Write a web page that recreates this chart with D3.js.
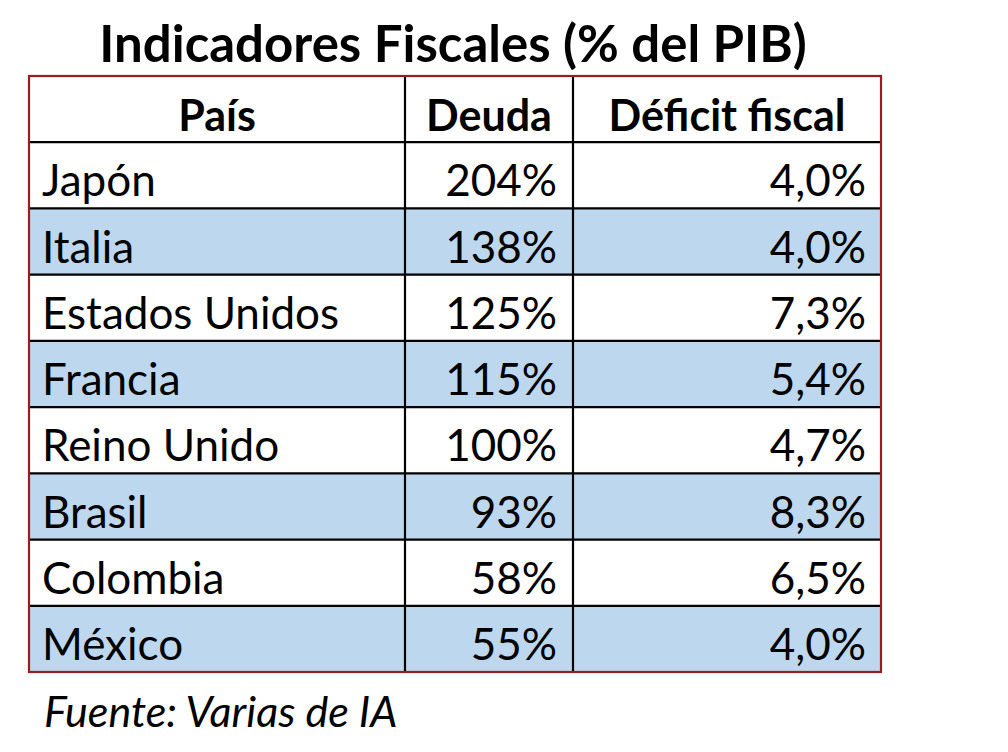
<!DOCTYPE html>
<html><head><meta charset="utf-8">
<script src="https://cdn.jsdelivr.net/npm/d3@7"></script>
<style>html,body{margin:0;padding:0;background:#fff;}svg{display:block;}</style>
</head><body>
<svg id="c" width="1008" height="752"></svg>
<script>
const title = "Indicadores Fiscales (% del PIB)";
const headers = ["País", "Deuda", "Déficit fiscal"];
const paises = ["Japón", "Italia", "Estados Unidos", "Francia", "Reino Unido", "Brasil", "Colombia", "México"];
const deuda = [204, 138, 125, 115, 100, 93, 58, 55];
const deficit = [4.0, 4.0, 7.3, 5.4, 4.7, 8.3, 6.5, 4.0];
const fuente = "Fuente: Varias de IA";

(function(){
const svg = d3.select("#c");
const font = "Lato, 'Open Sans', sans-serif";
const tLeft = 29, tRight = 881, tTop = 76, tBottom = 672;
const colEdges = [tLeft, 405, 573, tRight];
const rows = ["header"].concat(paises);
const y = d3.scaleBand().domain(d3.range(rows.length)).range([tTop, tBottom]).padding(0);
const x = d3.scaleOrdinal().domain([0,1,2,3]).range(colEdges);

const fmtDeuda = d => d + "%";
const fmtDef = d => d3.format(".1f")(d).replace(".", ",") + "%";

svg.append("g").selectAll("rect").data(paises).join("rect")
  .attr("x", tLeft).attr("width", tRight-tLeft)
  .attr("y", (d,i)=>y(i+1)).attr("height", y.bandwidth())
  .attr("fill", (d,i)=> i%2===1 ? "#bdd7ee" : "#fff");

const g = svg.append("g").attr("stroke", "#000").attr("stroke-width", 2.2);
d3.range(1, rows.length).forEach(i=>{
  g.append("line").attr("x1", tLeft).attr("x2", tRight).attr("y1", y(i)).attr("y2", y(i));
});
[1,2].forEach(c=>{
  g.append("line").attr("x1", x(c)).attr("x2", x(c)).attr("y1", tTop).attr("y2", tBottom);
});
svg.append("rect").attr("x", tLeft).attr("y", tTop).attr("width", tRight-tLeft).attr("height", tBottom-tTop)
  .attr("fill","none").attr("stroke","#9b1b22").attr("stroke-width",2.2);

svg.append("text").attr("x", 453).attr("y", 62).attr("text-anchor","middle")
  .attr("font-family", font).attr("font-weight","bold").attr("font-size", 51).attr("fill","#000")
  .text(title);

const hdrAnchor = [(colEdges[0]+colEdges[1])/2, (colEdges[1]+colEdges[2])/2, (colEdges[2]+colEdges[3])/2];
svg.append("g").selectAll("text").data(headers).join("text")
  .attr("x",(d,i)=>hdrAnchor[i]).attr("y", y(0)+y.bandwidth()-11)
  .attr("text-anchor","middle").attr("font-family",font).attr("font-weight","bold")
  .attr("font-size",43).attr("fill","#000").text(d=>d);

const cellSize = 44;
const base = i => y(i+1) + y.bandwidth() - 12;
svg.append("g").selectAll("text").data(paises).join("text")
  .attr("x", tLeft+13).attr("y",(d,i)=>base(i))
  .attr("font-family",font).attr("font-size",cellSize).attr("fill","#000").text(d=>d);
svg.append("g").selectAll("text").data(deuda).join("text")
  .attr("x", colEdges[2]-16).attr("y",(d,i)=>base(i)).attr("text-anchor","end")
  .attr("font-family",font).attr("font-size",cellSize).attr("fill","#000").text(fmtDeuda);
svg.append("g").selectAll("text").data(deficit).join("text")
  .attr("x", colEdges[3]-15).attr("y",(d,i)=>base(i)).attr("text-anchor","end")
  .attr("font-family",font).attr("font-size",cellSize).attr("fill","#000").text(fmtDef);

svg.append("text").attr("x", 44).attr("y", 727)
  .attr("font-family",font).attr("font-style","italic").attr("font-size",43).attr("fill","#000")
  .text(fuente);
})();
</script>
</body></html>
